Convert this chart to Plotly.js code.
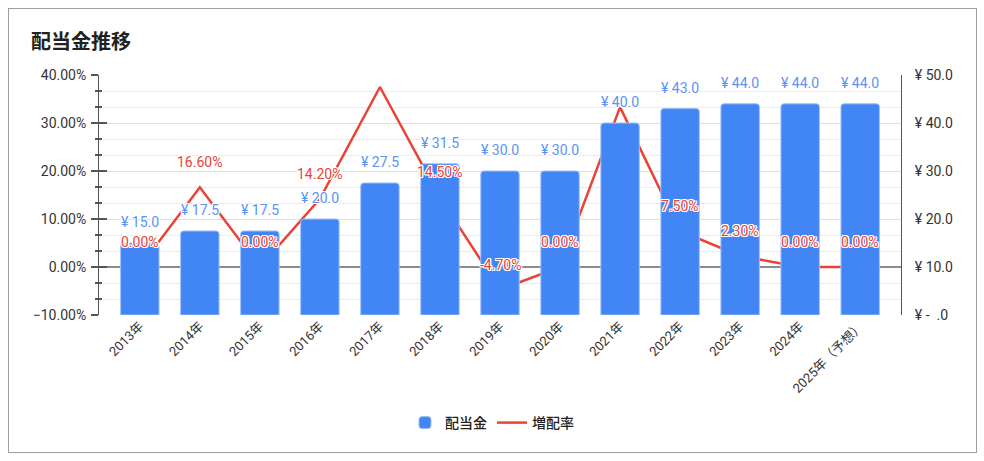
<!DOCTYPE html>
<html>
<head>
<meta charset="utf-8">
<script src="https://cdn.plot.ly/plotly-3.0.1.min.js"></script>
<style>
  html, body { margin: 0; padding: 0; background: #fff; }
  #wrap { position: relative; width: 984px; height: 461px; }
  #chart { width: 984px; height: 461px; }
  #frame { position: absolute; left: 8px; top: 8px; width: 967px; height: 443px;
           border: 1px solid #9e9e9e; pointer-events: none; }
</style>
</head>
<body>
<div id="wrap">
  <div id="chart"></div>
  <div id="frame"></div>
</div>
<script>
// ---- data ----
const categories = ['2013年','2014年','2015年','2016年','2017年','2018年','2019年','2020年','2021年','2022年','2023年','2024年','2025年（予想）'];
const dividends  = [15.0, 17.5, 17.5, 20.0, 27.5, 31.5, 30.0, 30.0, 40.0, 43.0, 44.0, 44.0, 44.0];
const growthRate = [0.00, 16.60, 0.00, 14.20, 37.50, 14.50, -4.70, 0.00, 33.30, 7.50, 2.30, 0.00, 0.00];
const growthLabelShown = [true, true, true, true, false, true, true, true, false, true, true, true, true];
const yenTicks = [0, 10, 20, 30, 40, 50];

const FONT = 'Roboto, "Noto Sans CJK JP", sans-serif';
const BLUE = '#4285F4';
const RED = '#EA4335';
const halo = '1px 1px 0 #fff, -1px -1px 0 #fff, 1px -1px 0 #fff, -1px 1px 0 #fff, 0 1px 0 #fff, 0 -1px 0 #fff, 1px 0 0 #fff, -1px 0 0 #fff';

function yen(v) { return v === 0 ? '¥ -  .0' : '¥ ' + v.toFixed(1); }

const traces = [
  {
    type: 'bar', name: '配当金', x: categories, y: dividends, yaxis: 'y2',
    marker: { color: BLUE, line: { color: '#9dbff8', width: 1 }, cornerradius: 3 },
    hoverinfo: 'skip'
  },
  {
    type: 'scatter', mode: 'lines', name: '増配率', x: categories, y: growthRate, yaxis: 'y',
    line: { color: RED, width: 2.5 },
    hoverinfo: 'skip'
  }
];

const annotations = [];
categories.forEach((c, i) => {
  annotations.push({
    x: c, y: dividends[i], xref: 'x', yref: 'y2', text: yen(dividends[i]),
    showarrow: false, yshift: 21,
    font: { family: FONT, size: 14, color: '#5a93f5', shadow: halo }
  });
});
categories.forEach((c, i) => {
  if (!growthLabelShown[i]) return;
  annotations.push({
    x: c, y: growthRate[i], xref: 'x', yref: 'y', text: growthRate[i].toFixed(2) + '%',
    showarrow: false, yshift: 25,
    font: { family: FONT, size: 14, color: RED, shadow: halo }
  });
});

const layout = {
  width: 984, height: 461,
  margin: { l: 99, r: 83, t: 75, b: 146 },
  paper_bgcolor: '#fff', plot_bgcolor: '#fff',
  font: { family: FONT, color: '#333' },
  title: {
    text: '<b>配当金推移</b>', xref: 'container', yref: 'container',
    x: 31/984, xanchor: 'left', y: 1 - 42/461, yanchor: 'middle',
    font: { family: FONT, size: 20, color: '#212121' }
  },
  bargap: 0.36,
  showlegend: true,
  legend: {
    orientation: 'h', x: 0.5, xanchor: 'center', xref: 'container',
    y: 1 - 423/461, yref: 'container', yanchor: 'middle',
    font: { family: FONT, size: 14, color: '#222', weight: 500 },
    traceorder: 'normal', itemwidth: 30
  },
  xaxis: {
    type: 'category', range: [-0.68, 12.68], showgrid: false, zeroline: false,
    showline: false, ticks: '', tickangle: -45,
    tickfont: { family: FONT, size: 13, color: '#333' }
  },
  yaxis: {
    range: [-10, 40], dtick: 10, tick0: 0, tickformat: '.2f', ticksuffix: '%',
    showgrid: true, gridcolor: '#e0e0e0', gridwidth: 1,
    zeroline: true, zerolinecolor: '#8c8c8c', zerolinewidth: 1.5,
    showline: true, linecolor: '#555', linewidth: 1,
    ticks: 'outside', ticklen: 7, tickcolor: '#555', tickwidth: 1.2,
    ticklabelstandoff: 2,
    minor: { dtick: 10/3, tick0: 0, showgrid: true, gridcolor: '#ebebeb', ticks: 'outside', ticklen: 3, tickcolor: '#555' },
    tickfont: { family: FONT, size: 14, color: '#333' }
  },
  yaxis3: {
    overlaying: 'y', matches: 'y', range: [-10, 40], dtick: 10, tick0: 0,
    showgrid: false, zeroline: false, showticklabels: false, showline: false,
    ticks: 'inside', ticklen: 8, tickcolor: '#555', tickwidth: 1.2,
    minor: { dtick: 10/3, tick0: 0, showgrid: false, ticks: 'inside', ticklen: 3, tickcolor: '#555' }
  },
  yaxis2: {
    overlaying: 'y', side: 'right', range: [0, 50],
    tickvals: yenTicks, ticktext: yenTicks.map(yen),
    showgrid: false, zeroline: false, showline: true, linecolor: '#555', linewidth: 1,
    ticks: '', ticklabelstandoff: 10,
    tickfont: { family: FONT, size: 14, color: '#333' }
  },
  annotations: annotations
};

// empty helper trace so the inner tick axis (yaxis3) is drawn
traces.push({ type: 'scatter', x: [categories[0]], y: [null], yaxis: 'y3', showlegend: false, hoverinfo: 'skip' });

Plotly.newPlot('chart', traces, layout, { staticPlot: true, displayModeBar: false });
</script>
</body>
</html>
